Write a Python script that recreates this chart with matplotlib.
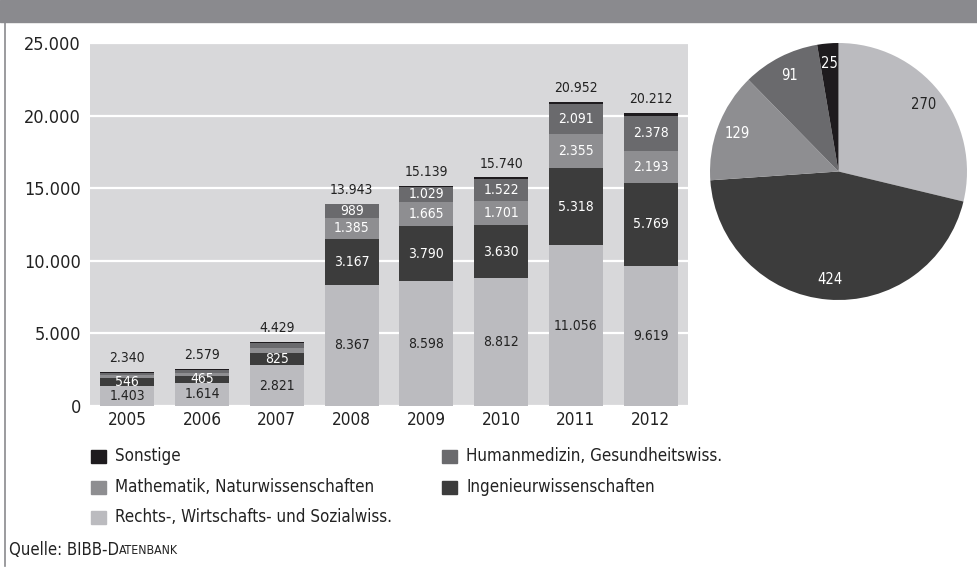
import matplotlib
matplotlib.use('Agg')
import matplotlib.pyplot as plt
from matplotlib import font_manager
from matplotlib.patches import Rectangle
from matplotlib.lines import Line2D

# schmale Schrift, falls vorhanden
schmal = [f for f in font_manager.fontManager.ttflist
          if f.name == 'DejaVu Sans' and f.stretch == 'condensed' and f.weight in (400, 'normal')]
if schmal:
    plt.rcParams['font.family'] = ['DejaVu Sans']
    plt.rcParams['font.stretch'] = 'condensed'
else:
    plt.rcParams['font.family'] = ['Liberation Sans', 'DejaVu Sans']

# Daten
jahre = ['2005', '2006', '2007', '2008', '2009', '2010', '2011', '2012']
rechts = [1403, 1614, 2821, 8367, 8598, 8812, 11056, 9619]
ingenieur = [546, 465, 825, 3167, 3790, 3630, 5318, 5769]
mathe = [160, 200, 350, 1385, 1665, 1701, 2355, 2193]
human = [170, 220, 330, 989, 1029, 1522, 2091, 2378]
sonstige = [61, 80, 103, 35, 57, 75, 132, 253]
gesamt = [2340, 2579, 4429, 13943, 15139, 15740, 20952, 20212]

kreis_werte = [270, 424, 129, 91, 25]

namen = ['Sonstige', 'Humanmedizin, Gesundheitswiss.', 'Mathematik, Naturwissenschaften',
         'Ingenieurwissenschaften', 'Rechts-, Wirtschafts- und Sozialwiss.']

c_rechts = '#bbbbbf'
c_ing = '#3c3c3c'
c_mathe = '#8e8e91'
c_human = '#6a6a6d'
c_sonst = '#1e1b1e'


def de(v):
    return '{:,}'.format(v).replace(',', '.')


W, H = 977, 570
fig = plt.figure(figsize=(W / 100, H / 100), dpi=100)

# grauer Balken oben, Rahmenlinie links
fig.patches.append(Rectangle((0, 1 - 22 / H), 1, 22 / H, transform=fig.transFigure,
                             color='#8a8a8e', zorder=0))
fig.lines.append(Line2D([4.5 / W, 4.5 / W], [1 - 22 / H, 1 - 566 / H], transform=fig.transFigure,
                        color='#8a8a8e', lw=1.2))

ax = fig.add_axes([90 / W, (H - 406) / H, (688 - 90) / W, (406 - 43) / H])
ax.set_facecolor('#d8d8da')
for s in ax.spines.values():
    s.set_visible(False)
ax.set_xlim(-0.5, 7.5)
ax.set_ylim(0, 25000)
ax.set_yticks(range(0, 25001, 5000))
ax.set_yticklabels([de(v) for v in range(0, 25001, 5000)])
ax.tick_params(length=0, labelsize=13, colors='#222222')
ax.tick_params(axis='y', pad=6.5)
ax.tick_params(axis='x', pad=3.5, labelsize=12.3)
ax.grid(axis='y', color='white', lw=1.6)
ax.set_axisbelow(True)

x = list(range(len(jahre)))
bw = 0.72
stapel = [(rechts, c_rechts, '#222222'), (ingenieur, c_ing, 'white'),
          (mathe, c_mathe, 'white'), (human, c_human, 'white'), (sonstige, c_sonst, None)]
unten = [0] * len(jahre)
for werte, farbe, tfarbe in stapel:
    bars = ax.bar(x, werte, bw, bottom=unten, color=farbe, linewidth=0)
    if tfarbe is not None:
        for i, b in enumerate(bars):
            v = werte[i]
            if werte in (mathe, human) and v < 900:
                continue
            ax.text(b.get_x() + b.get_width() / 2, unten[i] + v / 2, de(v),
                    ha='center', va='center', fontsize=10, color=tfarbe)
    unten = [u + v for u, v in zip(unten, werte)]

for i, g in enumerate(gesamt):
    ax.annotate(de(g), (i, unten[i]), xytext=(0, 7), textcoords='offset points',
                ha='center', va='baseline', fontsize=10, color='#222222')
ax.set_xticks(x)
ax.set_xticklabels(jahre)

# Kreisdiagramm
r = 128.5
pax = fig.add_axes([(838.5 - r) / W, (H - 171.5 - r) / H, 2 * r / W, 2 * r / H])
wedges, texts = pax.pie(kreis_werte, colors=[c_rechts, c_ing, c_mathe, c_human, c_sonst],
                        startangle=90, counterclock=False, labels=[str(v) for v in kreis_werte],
                        labeldistance=0.84, textprops=dict(fontsize=10.5, ha='center', va='center'),
                        wedgeprops=dict(linewidth=0))
for t, c in zip(texts, ['#222222', 'white', 'white', 'white', 'white']):
    t.set_color(c)
    t.set_ha('center')
pax.set_xlim(-1, 1)
pax.set_ylim(-1, 1)
pax.set_aspect('equal')

# Legende
leg = [(91, 456, c_sonst, namen[0]), (442, 456, c_human, namen[1]),
       (91, 487, c_mathe, namen[2]), (442, 487, c_ing, namen[3]),
       (91, 517, c_rechts, namen[4])]
for lx, ly, farbe, name in leg:
    fig.patches.append(Rectangle((lx / W, (H - ly - 6.5) / H), 15 / W, 13 / H,
                                 transform=fig.transFigure, color=farbe))
    fig.text((lx + 24) / W, (H - ly) / H, name, fontsize=12.2, va='center', ha='left', color='#222222')

t1 = fig.text(9 / W, (H - 550) / H, 'Quelle: BIBB-D', fontsize=12, va='center', ha='left', color='#222222')
fig.canvas.draw()
bb = t1.get_window_extent()
fig.text(bb.x1 / W, (H - 550) / H, 'ATENBANK', fontsize=8.8, va='center', ha='left', color='#222222')

fig.savefig('out.png', dpi=100)
